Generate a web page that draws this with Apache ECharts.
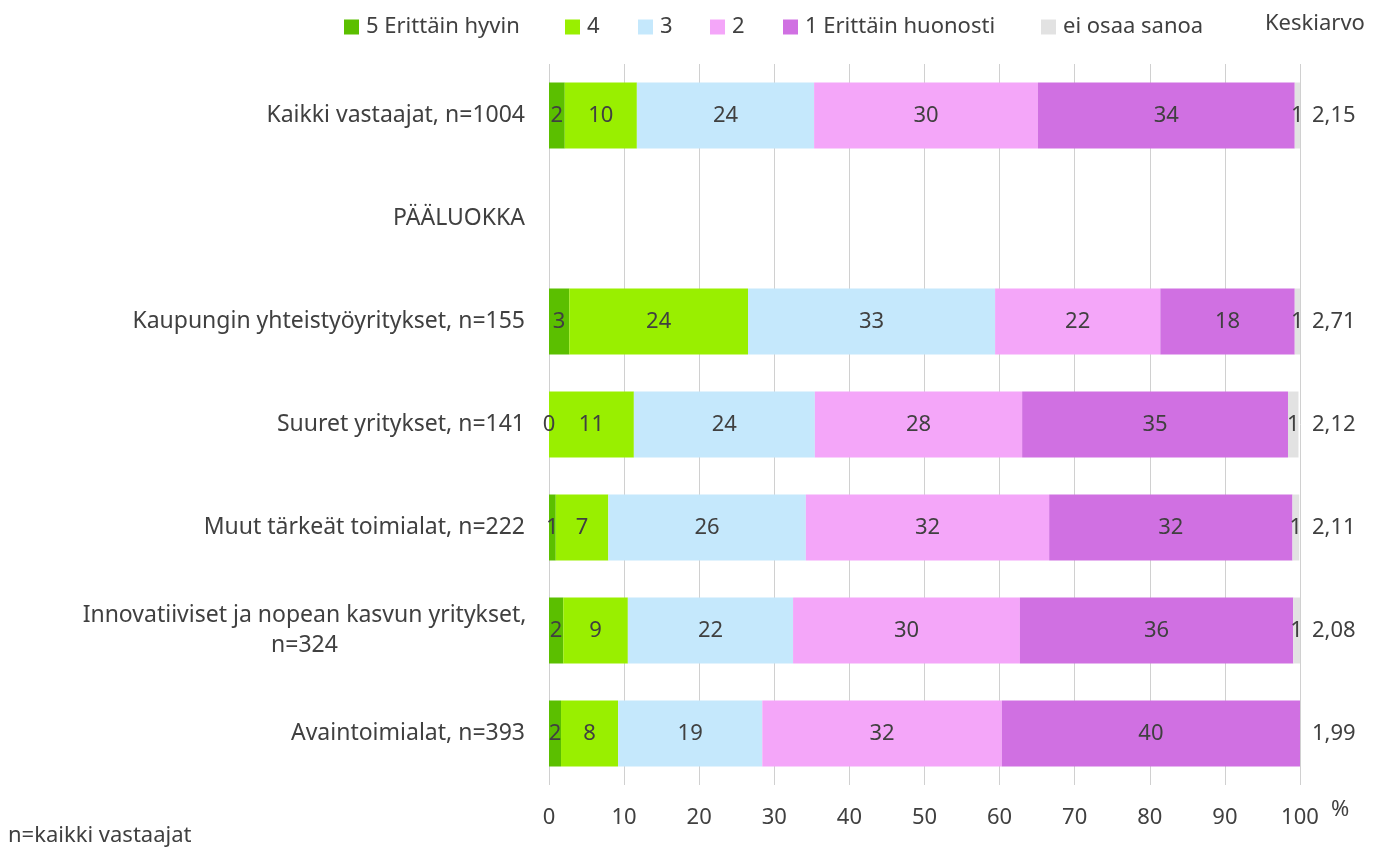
<!DOCTYPE html>
<html>
<head>
<meta charset="utf-8">
<title>Arvio</title>
<script src="https://cdn.jsdelivr.net/npm/echarts@6/dist/echarts.min.js"></script>
<style>
  html, body { margin: 0; padding: 0; background: #fff; }
  #chart { width: 1380px; height: 850px; }
</style>
</head>
<body>
<div id="chart"></div>
<script>
  // ryhmät ylhäältä alas
  var categories = [
    'Kaikki vastaajat, n=1004',
    'PÄÄLUOKKA',
    'Kaupungin yhteistyöyritykset, n=155',
    'Suuret yritykset, n=141',
    'Muut tärkeät toimialat, n=222',
    'Innovatiiviset ja nopean kasvun yritykset,\nn=324',
    'Avaintoimialat, n=393'
  ];
  var seriesNames = ['5 Erittäin hyvin', '4', '3', '2', '1 Erittäin huonosti', 'ei osaa sanoa'];
  var v5  = [2.1, null, 2.7, 0,    0.9, 1.9, 1.6];
  var v4  = [9.6, null, 23.8, 11.3, 7.0, 8.6, 7.6];
  var v3  = [23.6, null, 32.9, 24.1, 26.3, 22.0, 19.2];
  var v2  = [29.8, null, 22.0, 27.6, 32.4, 30.2, 31.9];
  var v1  = [34.2, null, 17.9, 35.4, 32.4, 36.4, 39.7];
  var vEi = [0.7, null, 0.7, 1.4, 0.9, 0.9, null];
  var keskiarvo = ['2,15', '', '2,71', '2,12', '2,11', '2,08', '1,99'];
  var xTicks = [0, 100, 10];

  var colors = ['#5bbf00', '#99ef00', '#c5e8fc', '#f4a6f9', '#d070e2', '#e2e2e2'];
  var legendLeft = [339, 560, 633, 705, 778, 1036];
  var values = [v5, v4, v3, v2, v1, vEi];
  var font = 'Noto Sans';
  var textColor = '#404040';

  var chart = echarts.init(document.getElementById('chart'));

  var series = [];
  for (var i = 0; i < seriesNames.length; i++) {
    series.push({
      name: seriesNames[i],
      type: 'bar',
      stack: 'total',
      barWidth: 66,
      data: values[i],
      itemStyle: { color: colors[i] },
      label: {
        show: true,
        position: 'inside',
        color: textColor,
        fontFamily: font,
        fontSize: 22,
        formatter: function (p) {
          return p.value == null ? '' : String(Math.round(p.value));
        }
      }
    });
  }

  var legends = seriesNames.map(function (n, i) {
    return {
      data: [n],
      left: legendLeft[i],
      top: 11,
      icon: 'rect',
      itemWidth: 15,
      itemHeight: 15,
      itemGap: 0,
      textStyle: { color: textColor, fontFamily: font, fontSize: 22, padding: [0, 0, 0, 2] }
    };
  });

  chart.setOption({
    animation: false,
    backgroundColor: '#fff',
    textStyle: { fontFamily: font },
    legend: legends,
    title: {
      text: 'Keskiarvo',
      left: 1260,
      top: 8,
      textStyle: { color: textColor, fontFamily: font, fontSize: 22, fontWeight: 'normal' }
    },
    graphic: [{
      type: 'text',
      left: 8,
      top: 825,
      style: { text: 'n=kaikki vastaajat', fill: textColor, font: '22px "Noto Sans"' }
    }],
    grid: { left: 549, right: 80, top: 64, bottom: 65, containLabel: false },
    xAxis: {
      type: 'value',
      min: xTicks[0],
      max: xTicks[1],
      interval: xTicks[2],
      name: '%',
      nameGap: 31,
      nameTextStyle: { color: textColor, fontSize: 22, fontFamily: font, verticalAlign: 'top', padding: [14, 0, 0, 0] },
      axisLine: { show: false },
      axisTick: { show: false },
      axisLabel: { color: textColor, fontSize: 22, fontFamily: font, margin: 22 },
      splitLine: { lineStyle: { color: '#d0d0d0', width: 1 } }
    },
    yAxis: [{
      type: 'category',
      inverse: true,
      data: categories,
      axisLine: { show: false },
      axisTick: { show: false },
      axisLabel: {
        color: textColor,
        fontSize: 23,
        fontFamily: font,
        margin: 24,
        formatter: function (v) {
          if (v.indexOf('\n') < 0) return v;
          return v.split('\n').map(function (s) { return '{c|' + s + '}'; }).join('\n');
        },
        rich: {
          c: { width: 441, align: 'center', color: textColor, fontSize: 23, fontFamily: font, lineHeight: 30 }
        }
      }
    }, {
      type: 'category',
      inverse: true,
      position: 'right',
      data: keskiarvo,
      axisLine: { show: false },
      axisTick: { show: false },
      axisLabel: { color: textColor, fontSize: 22, fontFamily: font, margin: 12 }
    }],
    series: series
  });
</script>
</body>
</html>
